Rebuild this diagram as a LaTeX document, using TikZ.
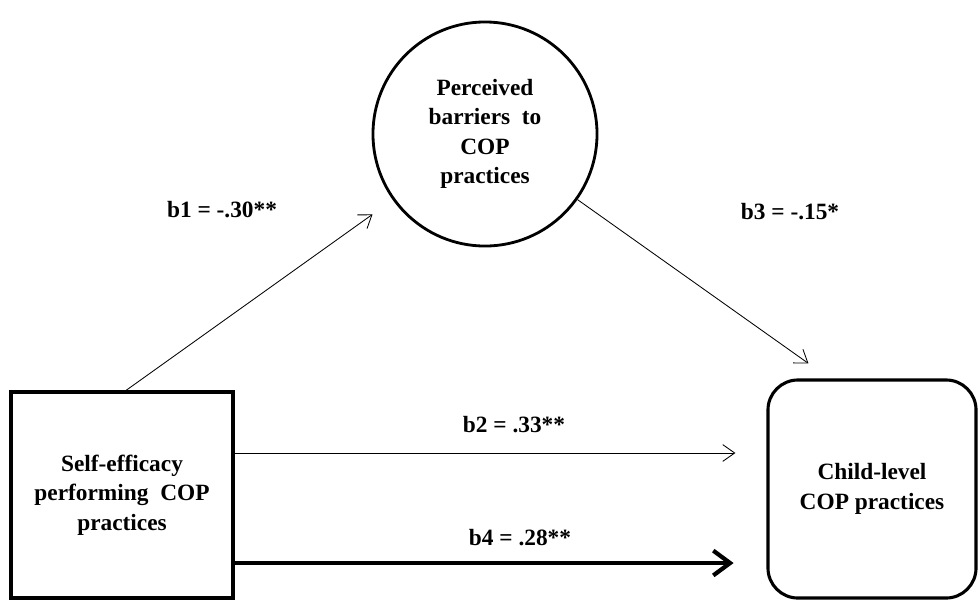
\documentclass[tikz,border=0pt]{standalone}
\usepackage{fontspec}
\setmainfont{Liberation Serif}
\usetikzlibrary{arrows.meta}

\begin{document}
\begin{tikzpicture}[
    x=0.025cm, y=-0.025cm,
    every node/.style={font=\fontsize{16.6}{21}\selectfont\bfseries, align=center},
    varbox/.style={draw, line width=2.2pt, minimum width=5.55cm, minimum height=5.15cm},
    latent/.style={draw, circle, line width=2pt, minimum size=5.6cm},
    outcome/.style={draw, rounded corners=0.75cm, line width=2.2pt, minimum width=5.2cm, minimum height=5.45cm},
    thinarrow/.style={-{Straight Barb[length=0.3cm, width=0.42cm]}, line width=0.6pt},
    heavyarrow/.style={-{Straight Barb[length=0.42cm, width=0.62cm]}, line width=3pt}
  ]
  \useasboundingbox (0,0) rectangle (978,600);

  % Variables
  \node[varbox] (self) at (122,495) {Self-efficacy\\performing~~COP\\practices};
  \node[latent] (barrier) at (485,134) {Perceived\\barriers~~to\\COP\\practices};
  \node[outcome] (child) at (872,489) {Child-level\\COP practices};

  % Free ends
  \path ([yshift=1.05cm]self.east) coordinate (b2from)
        ([yshift=-1.7cm]self.east) coordinate (b4from);
  \coordinate (b3tip) at ([xshift=1.05cm, yshift=0.375cm]child.north west);

  % Paths
  \draw[thinarrow, shorten >=0.62cm] ([xshift=0.1cm]self.north) -- (barrier);
  \draw[thinarrow] (barrier) -- (b3tip);
  \draw[thinarrow, shorten >=0.775cm] (b2from) -- (b2from -| child.west);
  \draw[heavyarrow, shorten >=0.82cm] (b4from) -- (b4from -| child.west);

  % Coefficients
  \node (b1lab) at (222,210) {b1 = -.30**};
  \node (b3lab) at (790,212) {b3 = -.15*};
  \node (b2lab) at (514,425) {b2 = .33**};
  \node (b4lab) at (520,538) {b4 = .28**};
\end{tikzpicture}
\end{document}
